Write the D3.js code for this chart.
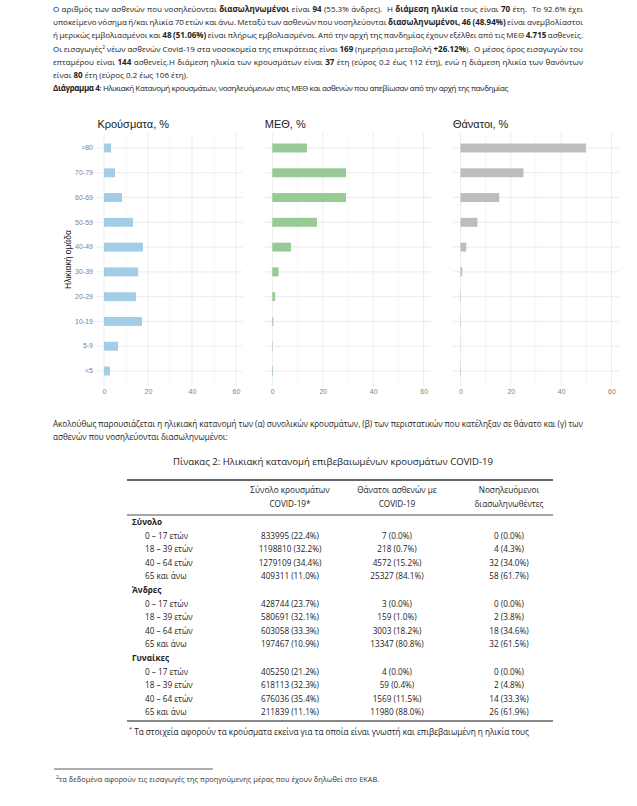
<!DOCTYPE html>
<html><head><meta charset="utf-8">
<script src="https://cdn.jsdelivr.net/npm/d3@7"></script>
<style>body{margin:0;background:#fff} svg{display:block} text{white-space:pre}</style>
</head><body><svg id="c" width="637" height="806"></svg>
<script>
// ---------- chart data ----------
const ageGroups = [">80","70-79","60-69","50-59","40-49","30-39","20-29","10-19","5-9","<5"];
const casesPct  = [3.2, 5.0, 8.2, 13.2, 17.7, 15.5, 14.5, 17.3, 6.4, 2.7];
const icuPct    = [13.7, 29.2, 29.2, 17.7, 7.4, 2.5, 1.1, 0.4, 0.2, 0.3];
const deathsPct = [49.8, 25.0, 15.4, 6.7, 2.3, 0.7, 0.2, 0.2, 0.05, 0.2];
const xTicks = [0, 20, 40, 60];
const xMinorTicks = [10, 30, 50];
const panelTitles = ["Κρούσματα, %", "ΜΕΘ, %", "Θάνατοι, %"];
const yAxisTitle = "Ηλικιακή ομάδα";

// ---------- table data ----------
const tableHeaders = [["Σύνολο κρουσμάτων","COVID-19*"],["Θάνατοι ασθενών με","COVID-19"],["Νοσηλευόμενοι","διασωληνωθέντες"]];
const tableGroups = ["Σύνολο", "Άνδρες", "Γυναίκες"];
const tableAges = ["0 – 17 ετών", "18 – 39 ετών", "40 – 64 ετών", "65 και άνω"];
const tableCases = [
  ["833995 (22.4%)","1198810 (32.2%)","1279109 (34.4%)","409311 (11.0%)"],
  ["428744 (23.7%)","580691 (32.1%)","603058 (33.3%)","197467 (10.9%)"],
  ["405250 (21.2%)","618113 (32.3%)","676036 (35.4%)","211839 (11.1%)"]];
const tableDeaths = [
  ["7 (0.0%)","218 (0.7%)","4572 (15.2%)","25327 (84.1%)"],
  ["3 (0.0%)","159 (1.0%)","3003 (18.2%)","13347 (80.8%)"],
  ["4 (0.0%)","59 (0.4%)","1569 (11.5%)","11980 (88.0%)"]];
const tableIntubated = [
  ["0 (0.0%)","4 (4.3%)","32 (34.0%)","58 (61.7%)"],
  ["0 (0.0%)","2 (3.8%)","18 (34.6%)","32 (61.5%)"],
  ["0 (0.0%)","2 (4.8%)","14 (33.3%)","26 (61.9%)"]];

// ---------- text ----------
const introLines = [
  [["Ο αριθμός των ασθενών που νοσηλεύονται ",0],["διασωληνωμένοι",1],[" είναι ",0],["94",1],[" (55.3% άνδρες).  Η ",0],["διάμεση ηλικία",1],[" τους είναι ",0],["70",1],[" έτη.  Το 92.6% έχει",0]],
  [["υποκείμενο νόσημα ή/και ηλικία 70 ετών και άνω. Μεταξύ των ασθενών που νοσηλεύονται ",0],["διασωληνωμένοι, 46 (48.94%)",1],[" είναι ανεμβολίαστοι",0]],
  [["ή μερικώς εμβολιασμένοι και ",0],["48 (51.06%)",1],[" είναι πλήρως εμβολιασμένοι. Από την αρχή της πανδημίας έχουν εξέλθει από τις ΜΕΘ ",0],["4.715",1],[" ασθενείς.",0]],
  [["Οι εισαγωγές",0],["2",2],[" νέων ασθενών Covid-19 στα νοσοκομεία της επικράτειας είναι ",0],["169",1],[" (ημερήσια μεταβολή ",0],["+26.12%",1],[").  Ο μέσος όρος εισαγωγών του",0]],
  [["επταμέρου είναι ",0],["144",1],[" ασθενείς.Η διάμεση ηλικία των κρουσμάτων είναι ",0],["37",1],[" έτη (εύρος 0.2 έως 112 έτη), ενώ η διάμεση ηλικία των θανόντων",0]],
  [["είναι ",0],["80",1],[" έτη (εύρος 0.2 έως 106 έτη).",0]],
  [["Διάγραμμα 4",1],[": Ηλικιακή Κατανομή κρουσμάτων, νοσηλευόμενων στις ΜΕΘ και ασθενών που απεβίωσαν από την αρχή της πανδημίας",0]]
];
const introJustify = [1,1,1,1,1,0,0];
const midLines = [
  [["Ακολούθως παρουσιάζεται η ηλικιακή κατανομή των (α) συνολικών κρουσμάτων, (β) των περιστατικών που κατέληξαν σε θάνατο και (γ) των",0]],
  [["ασθενών που νοσηλεύονται διασωληνωμένοι:",0]]
];
const midJustify = [1,0];
const tableCaption = "Πίνακας 2: Ηλικιακή κατανομή επιβεβαιωμένων κρουσμάτων COVID-19";
const tableNote = " Τα στοιχεία αφορούν τα κρούσματα εκείνα για τα οποία είναι γνωστή και επιβεβαιωμένη η ηλικία τους";
const pageNote = "τα δεδομένα αφορούν τις εισαγωγές της προηγούμενης μέρας που έχουν δηλωθεί στο ΕΚΑΒ.";

const svg = d3.select("#c");
const BODY_FONT = "'Open Sans', 'Noto Sans', sans-serif";
const CHART_FONT = "'Liberation Sans', Arial, sans-serif";

function richLine(g, segs, x, y, size, target, justify) {
  const t = g.append("text").attr("x", x).attr("y", y)
    .attr("font-family", BODY_FONT).attr("font-size", size).attr("fill", "#222");
  segs.forEach(([s, b]) => {
    const ts = t.append("tspan").text(s);
    if (b === 1) ts.attr("font-weight", 700);
    if (b === 2) ts.attr("font-size", size * 0.62).attr("baseline-shift", "super");
  });
  const w = t.node().getComputedTextLength();
  const full = segs.map(d => d[0]).join("");
  if (justify) {
    const nSpaces = full.split(" ").length - 1;
    const ws = Math.max((target - w) / nSpaces, -1.0);
    t.attr("word-spacing", ws);
    const rest = target - w - ws * nSpaces;
    if (rest < 0) t.attr("letter-spacing", rest / full.length);
  } else if (target && w > target) {
    t.attr("letter-spacing", (target - w) / full.length);
  }
  return t;
}

const LEFT = 53, RIGHT = 583, W = RIGHT - LEFT;
const intro = svg.append("g");
const introY = [12, 25, 38, 51.5, 64.5, 77.5, 91];
const introNonJustWidth = [0,0,0,0,0,150,455];
introLines.forEach((segs, i) => richLine(intro, segs, LEFT, introY[i], 8.0, introJustify[i] ? W : introNonJustWidth[i], introJustify[i]));

// ---------- charts ----------
const yBand = d3.scaleBand().domain(ageGroups).range([133, 386]).paddingInner(0.64).paddingOuter(0.425);
const panels = [
  {vals: casesPct, range: [104, 236], color: "#a3cde6"},
  {vals: icuPct, range: [272.3, 423.7], color: "#98ca95"},
  {vals: deathsPct, range: [460.5, 611.5], color: "#bdbdbd"}
];
const chart = svg.append("g");
panels.forEach((p, pi) => {
  const x = d3.scaleLinear().domain([0, 60]).range(p.range);
  const x0 = x(-3), x1 = x(63);
  const g = chart.append("g");
  g.selectAll(".hg").data(ageGroups).join("line")
    .attr("x1", x0).attr("x2", x1)
    .attr("y1", d => yBand(d) + yBand.bandwidth() / 2).attr("y2", d => yBand(d) + yBand.bandwidth() / 2)
    .attr("stroke", "#ebebeb").attr("stroke-width", 1);
  g.selectAll(".mg").data(xMinorTicks).join("line")
    .attr("x1", d => x(d)).attr("x2", d => x(d)).attr("y1", 133).attr("y2", 386)
    .attr("stroke", "#f0f0f0").attr("stroke-width", 0.6);
  g.selectAll(".vg").data(xTicks).join("line")
    .attr("x1", d => x(d)).attr("x2", d => x(d)).attr("y1", 133).attr("y2", 386)
    .attr("stroke", "#ebebeb").attr("stroke-width", 1);
  g.selectAll("rect").data(p.vals).join("rect")
    .attr("x", x(0)).attr("y", (d, i) => yBand(ageGroups[i]))
    .attr("width", d => x(d) - x(0)).attr("height", yBand.bandwidth())
    .attr("fill", p.color);
  const ax = d3.axisBottom(x).tickValues(xTicks).tickSize(0).tickPadding(0);
  const axg = g.append("g").attr("transform", "translate(0,389)").call(ax);
  axg.select(".domain").remove();
  axg.selectAll("text").attr("font-family", CHART_FONT).attr("font-size", 7).attr("fill", "#7f7f7f").attr("dy", "0.71em");
  g.append("text").attr("x", x0).attr("y", 128).text(panelTitles[pi])
    .attr("font-family", CHART_FONT).attr("font-size", 11).attr("fill", "#1a1a1a");
  if (pi === 0) {
    const ay = d3.axisLeft(yBand).tickSize(0).tickPadding(0);
    const ayg = g.append("g").attr("transform", "translate(93,0)").call(ay);
    ayg.select(".domain").remove();
    ayg.selectAll("text").attr("font-family", CHART_FONT).attr("font-size", 7).attr("fill", "#7f7f7f");
    g.append("text").attr("transform", "translate(71,259.5) rotate(-90)").attr("text-anchor", "middle")
      .text(yAxisTitle).attr("font-family", CHART_FONT).attr("font-size", 8.5).attr("fill", "#1a1a1a");
  }
});

// ---------- mid text ----------
const mid = svg.append("g");
[427, 440].forEach((y, i) => richLine(mid, midLines[i], LEFT, y, 8.1, midJustify[i] ? W : 0, midJustify[i]));
mid.append("text").attr("x", 333).attr("y", 465).attr("text-anchor", "middle").text(tableCaption)
  .attr("font-family", BODY_FONT).attr("font-size", 9.6).attr("fill", "#222");

// ---------- table ----------
const tb = svg.append("g").attr("font-family", BODY_FONT).attr("font-size", 8.2).attr("fill", "#222");
const colX = [290, 397, 509];
tb.append("line").attr("x1", 127).attr("x2", 553).attr("y1", 480).attr("y2", 480).attr("stroke", "#333").attr("stroke-width", 1.6);
tb.append("line").attr("x1", 127).attr("x2", 553).attr("y1", 515).attr("y2", 515).attr("stroke", "#888").attr("stroke-width", 1.6);
tb.append("line").attr("x1", 127).attr("x2", 553).attr("y1", 721).attr("y2", 721).attr("stroke", "#888").attr("stroke-width", 1.8);
tableHeaders.forEach((h, i) => h.forEach((s, j) =>
  tb.append("text").attr("x", colX[i]).attr("y", 493 + j * 14).attr("text-anchor", "middle").text(s)));
const rowStep = 13.6;
let rowIdx = 0;
const rowY = k => 525 + k * rowStep;
tableGroups.forEach((gname, gi) => {
  tb.append("text").attr("x", 132).attr("y", rowY(rowIdx++)).attr("font-weight", 700).text(gname);
  tableAges.forEach((a, ai) => {
    const y = rowY(rowIdx++);
    tb.append("text").attr("x", 145).attr("y", y).text(a);
    [tableCases, tableDeaths, tableIntubated].forEach((col, ci) =>
      tb.append("text").attr("x", colX[ci]).attr("y", y).attr("text-anchor", "middle").text(col[gi][ai]));
  });
});
const tn = tb.append("text").attr("x", 129).attr("y", 735);
tn.append("tspan").text("*").attr("font-size", 5.5).attr("baseline-shift", "super");
tn.append("tspan").text(tableNote);

// ---------- page footnote ----------
svg.append("line").attr("x1", 54).attr("x2", 213).attr("y1", 769).attr("y2", 769).attr("stroke", "#333").attr("stroke-width", 0.8);
const pn = svg.append("text").attr("x", 56).attr("y", 782).attr("font-family", BODY_FONT).attr("font-size", 7.4).attr("fill", "#333");
pn.append("tspan").text("2").attr("font-size", 5).attr("baseline-shift", "super");
pn.append("tspan").text(pageNote);
</script></body></html>
